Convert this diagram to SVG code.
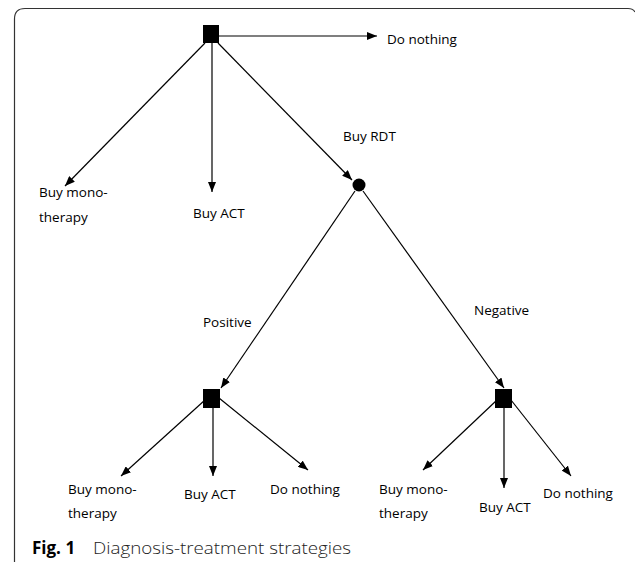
<svg xmlns="http://www.w3.org/2000/svg" width="635" height="562" viewBox="0 0 635 562">
<style>
.lbl{font-family:"Open Sans","Liberation Sans",sans-serif;font-size:13.5px;fill:#000}
.edge{stroke:#000;stroke-width:1.2;fill:none;marker-end:url(#arr)}
.dec{fill:#000}
.cap{font-family:"Open Sans","Liberation Sans",sans-serif;font-size:16px;fill:#222}
</style>
<defs>
<marker id="arr" markerUnits="userSpaceOnUse" markerWidth="10" markerHeight="8" refX="10" refY="4" orient="auto">
<path d="M0,0 L10,4 L0,8 z" fill="#000"/>
</marker>
</defs>
<rect width="635" height="562" fill="#fff"/>
<path d="M14.5,562 V19 Q14.5,8.5 25,8.5 H628 Q633,8.5 635,12" fill="none" stroke="#333" stroke-width="1.2"/>
<g id="connectors">
<line class="edge" x1="219" y1="36" x2="377" y2="36"/>
<line class="edge" x1="205" y1="43" x2="65" y2="186"/>
<line class="edge" x1="212" y1="43" x2="212" y2="192"/>
<line class="edge" x1="218" y1="43" x2="352" y2="180"/>
<line class="edge" x1="355" y1="191" x2="221" y2="388"/>
<line class="edge" x1="363" y1="191" x2="504" y2="388"/>
<line class="edge" x1="205" y1="400" x2="121" y2="476"/>
<line class="edge" x1="213" y1="408" x2="213" y2="476"/>
<line class="edge" x1="219" y1="398" x2="308" y2="470"/>
<line class="edge" x1="497" y1="400" x2="423" y2="470"/>
<line class="edge" x1="504" y1="408" x2="504" y2="488"/>
<line class="edge" x1="511" y1="400" x2="571" y2="476"/>
</g>
<g id="root"><rect class="dec" x="203" y="25" width="16" height="18"/></g>
<g id="do-nothing-top"><text class="lbl" x="387" y="44" font-size="14.5">Do nothing</text></g>
<g id="mono-top"><text class="lbl" x="39" y="197">Buy mono-</text><text class="lbl" x="39" y="222">therapy</text></g>
<g id="act-top"><text class="lbl" x="193" y="218">Buy ACT</text></g>
<g id="rdt-label"><text class="lbl" x="343" y="141">Buy RDT</text></g>
<g id="rdt"><circle class="dec" cx="359" cy="185" r="6.5"/></g>
<g id="positive-label"><text class="lbl" x="203" y="327">Positive</text></g>
<g id="negative-label"><text class="lbl" x="474" y="315">Negative</text></g>
<g id="pos"><rect class="dec" x="203" y="389" width="17" height="19"/></g>
<g id="neg"><rect class="dec" x="495" y="389" width="17" height="19"/></g>
<g id="pos-mono"><text class="lbl" x="68" y="494">Buy mono-</text><text class="lbl" x="68" y="518">therapy</text></g>
<g id="pos-act"><text class="lbl" x="184" y="499">Buy ACT</text></g>
<g id="pos-nothing"><text class="lbl" x="270" y="494">Do nothing</text></g>
<g id="neg-mono"><text class="lbl" x="379" y="494">Buy mono-</text><text class="lbl" x="379" y="518">therapy</text></g>
<g id="neg-act"><text class="lbl" x="479" y="512">Buy ACT</text></g>
<g id="neg-nothing"><text class="lbl" x="543" y="498">Do nothing</text></g>
<g id="caption">
<text class="cap" x="32" y="554"><tspan font-weight="700" fill="#000" font-size="17">Fig. 1</tspan><tspan x="93" font-weight="300" textLength="258" lengthAdjust="spacingAndGlyphs">Diagnosis-treatment strategies</tspan></text>
</g>
</svg>
